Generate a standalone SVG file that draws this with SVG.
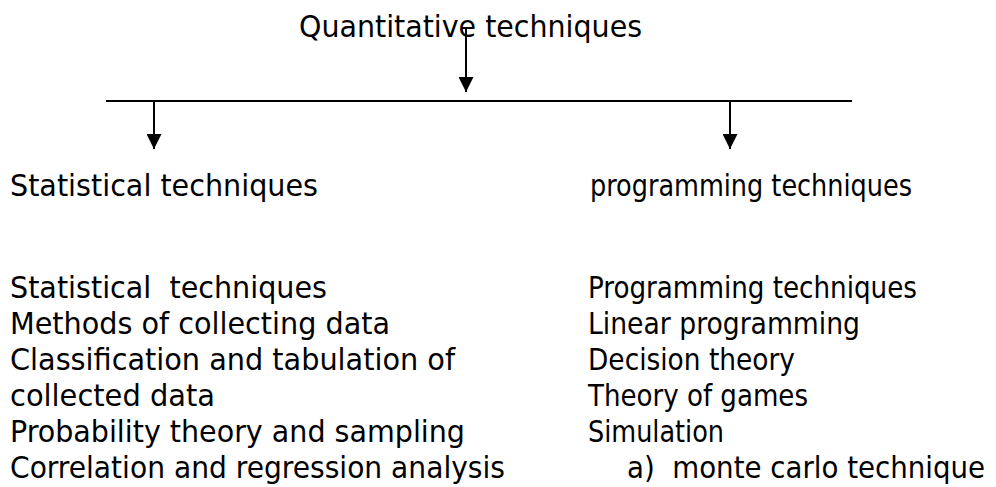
<svg xmlns="http://www.w3.org/2000/svg" width="996" height="487" viewBox="0 0 996 487">
  <style>
    text { font-family: "DejaVu Sans Condensed", "DejaVu Sans", sans-serif; font-size: 30px; fill: #000; }
    .conn { stroke: #000; stroke-width: 2; fill: none; }
  </style>
  <defs>
    <marker id="arrow" markerWidth="16" markerHeight="15" refX="15" refY="7.5" orient="auto" markerUnits="userSpaceOnUse">
      <path d="M0,0 L15,7.5 L0,15 Z" fill="#000"/>
    </marker>
  </defs>
  <rect width="996" height="487" fill="#fff"/>

  <g id="root">
    <text x="299" y="37" textLength="343" lengthAdjust="spacingAndGlyphs">Quantitative techniques</text>
  </g>

  <g id="connectors">
    <line class="conn" x1="106" y1="101" x2="852" y2="101"/>
    <line class="conn" x1="466" y1="28" x2="466" y2="92" marker-end="url(#arrow)"/>
    <line class="conn" x1="154" y1="101" x2="154" y2="149" marker-end="url(#arrow)"/>
    <line class="conn" x1="730" y1="101" x2="730" y2="149" marker-end="url(#arrow)"/>
  </g>

  <g id="statistical">
    <text x="10" y="196" textLength="308" lengthAdjust="spacingAndGlyphs">Statistical techniques</text>
  </g>

  <g id="programming">
    <text x="590" y="196" textLength="322" lengthAdjust="spacingAndGlyphs">programming techniques</text>
  </g>

  <g id="statistical-list">
    <text x="10" y="298" textLength="317" lengthAdjust="spacingAndGlyphs" xml:space="preserve">Statistical  techniques</text>
    <text x="10" y="334" textLength="380" lengthAdjust="spacingAndGlyphs">Methods of collecting data</text>
    <text x="10" y="370" textLength="445" lengthAdjust="spacingAndGlyphs">Classification and tabulation of</text>
    <text x="10" y="406" textLength="205" lengthAdjust="spacingAndGlyphs">collected data</text>
    <text x="10" y="442" textLength="455" lengthAdjust="spacingAndGlyphs">Probability theory and sampling</text>
    <text x="10" y="478" textLength="495" lengthAdjust="spacingAndGlyphs">Correlation and regression analysis</text>
  </g>

  <g id="programming-list">
    <text x="588" y="298" textLength="329" lengthAdjust="spacingAndGlyphs">Programming techniques</text>
    <text x="588" y="334" textLength="272" lengthAdjust="spacingAndGlyphs">Linear programming</text>
    <text x="588" y="370" textLength="207" lengthAdjust="spacingAndGlyphs">Decision theory</text>
    <text x="588" y="406" textLength="220" lengthAdjust="spacingAndGlyphs">Theory of games</text>
    <text x="588" y="442" textLength="136" lengthAdjust="spacingAndGlyphs">Simulation</text>
    <text x="627" y="478" textLength="358" lengthAdjust="spacingAndGlyphs" xml:space="preserve">a)  monte carlo technique</text>
  </g>
</svg>
